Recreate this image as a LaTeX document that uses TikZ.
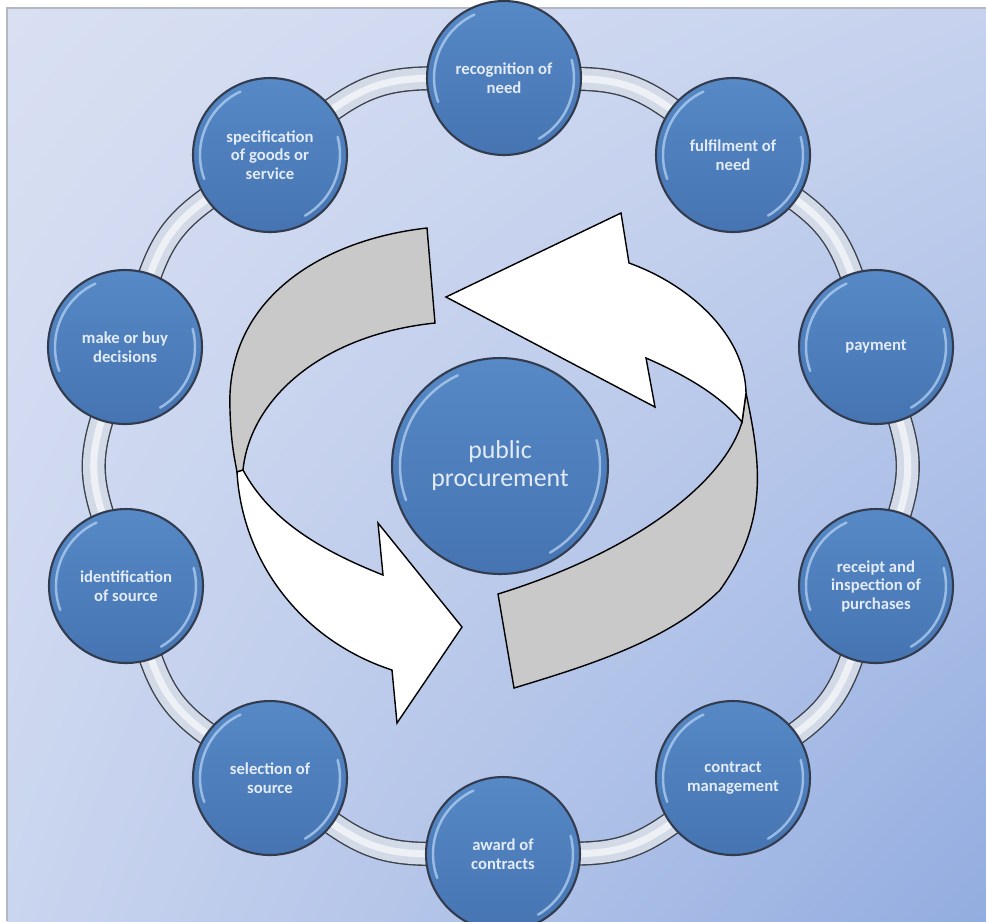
\documentclass[tikz,border=0pt]{standalone}
\usepackage{fontspec}
\setmainfont{Carlito}
\usetikzlibrary{calc,shadings}
\definecolor{bgTL}{HTML}{D9E0F2}
\definecolor{bgTR}{HTML}{C6D2EE}
\definecolor{bgBL}{HTML}{CAD5EF}
\definecolor{bgBR}{HTML}{93ADE0}
\definecolor{framec}{HTML}{B4B8C0}
\definecolor{nodetop}{HTML}{5689C6}
\definecolor{nodebot}{HTML}{4674B2}
\definecolor{nodeedge}{HTML}{323C4E}
\definecolor{nodetext}{HTML}{E2EBF7}
\definecolor{rimc}{HTML}{B5D2F2}
\definecolor{tubeedge}{HTML}{3C414B}
\definecolor{tubefill}{HTML}{D3DAE7}
\definecolor{bandgray}{HTML}{C9C9C9}
\pgfdeclarelayer{back}
\pgfdeclarelayer{tubes}
\pgfsetlayers{back,tubes,main}
\tikzset{
  stage/.style={circle, minimum size=3.08cm, inner sep=0pt, draw=nodeedge, line width=1.2pt,
    top color=nodetop, bottom color=nodebot, text=nodetext, align=center,
    font=\fontsize{9.5}{10.5}\selectfont\bfseries},
  hub/.style={circle, minimum size=4.32cm, inner sep=0pt, draw=nodeedge, line width=1.2pt,
    top color=nodetop, bottom color=nodebot, text=nodetext, align=center,
    font=\fontsize{14.7}{16}\selectfont},
  tube/.style={draw=tubeedge, line width=0.8pt, double=tubefill, double distance=12.2pt,
    shorten <=-4pt, shorten >=-4pt},
  tubeshine/.style={draw=white, line width=4pt, opacity=0.6, shorten <=-4pt, shorten >=-4pt},
  rim/.style={draw=rimc, line width=1.4pt, line cap=round, opacity=0.75},
  ribbon/.style={draw=black, line width=0.8pt, line join=miter},
}
\begin{document}
\begin{tikzpicture}[x=0.02cm, y=-0.02cm]
\useasboundingbox (0,0) rectangle (986,921);
\begin{pgfonlayer}{back}
  \fill[white] (0,0) rectangle (986,921);
  \shade[upper left=bgTL, upper right=bgTR, lower left=bgBL, lower right=bgBR] (7,8) rectangle (986,921);
  \draw[framec, line width=1.4pt] (7,921) -- (7,8) -- (986,8);
\end{pgfonlayer}

% stage nodes
\node[stage] (n1)  at (504,78)  {recognition of\\need};
\node[stage] (n2)  at (733,155) {fulfilment of\\need};
\node[stage] (n3)  at (876,347) {payment};
\node[stage] (n4)  at (876,586) {receipt and\\inspection of\\purchases};
\node[stage] (n5)  at (733,778) {contract\\management};
\node[stage] (n6)  at (503,854) {award of\\contracts};
\node[stage] (n7)  at (270,778) {selection of\\source};
\node[stage] (n8)  at (126,586) {identification\\of source};
\node[stage] (n9)  at (125,347) {make or buy\\decisions};
\node[stage] (n10) at (270,155) {specification\\of goods or\\service};
\node[hub]   (c)   at (500,466) {public\\procurement};

% rim highlights
\foreach \n in {n1,n2,n3,n4,n5,n6,n7,n8,n9,n10}{
  \draw[rim] (\n.center) ++(-115:70) arc[start angle=-115, end angle=-200, radius=70];
  \draw[rim] (\n.center) ++(-15:70) arc[start angle=-15, end angle=60, radius=70];
}
\draw[rim] (c.center) ++(-115:100) arc[start angle=-115, end angle=-200, radius=100];
\draw[rim] (c.center) ++(-15:100) arc[start angle=-15, end angle=60, radius=100];

% connecting tubes
\begin{pgfonlayer}{tubes}
\foreach \a/\b in {n1/n2,n2/n3,n3/n4,n4/n5,n5/n6,n6/n7,n7/n8,n8/n9,n9/n10,n10/n1}{
  \draw[tube] (\a) to[bend left=18] (\b);
  \draw[tubeshine] (\a) to[bend left=18] (\b);
}
\end{pgfonlayer}

% right grey band (back of upper arrow)
\filldraw[ribbon, fill=bandgray] (746,393) .. controls (760,460) and (770,520) .. (720,590)
  .. controls (670,640) and (590,665) .. (514,688) -- (498,594)
  .. controls (640,550) and (725,480) .. (742,422) -- cycle;
% upper white arrow
\filldraw[ribbon, fill=white] (746,393) .. controls (745,335) and (690,285) .. (629,263)
  -- (621,213) -- (446,297) -- (655,407) -- (646,358)
  .. controls (685,375) and (720,395) .. (742,422) -- cycle;

% left grey band (back of lower arrow)
\filldraw[ribbon, fill=bandgray] (427,228) -- (435,323)
  .. controls (320,335) and (250,400) .. (243,470) -- (237,472)
  .. controls (235,460) and (231,445) .. (230,410)
  .. controls (225,300) and (320,240) .. (427,228) -- cycle;
% lower white arrow
\filldraw[ribbon, fill=white] (237,472) .. controls (242,560) and (300,640) .. (392,670)
  -- (397,723) -- (462,627) -- (378,523) -- (383,575)
  .. controls (320,550) and (270,520) .. (243,470) -- cycle;
\end{tikzpicture}
\end{document}
